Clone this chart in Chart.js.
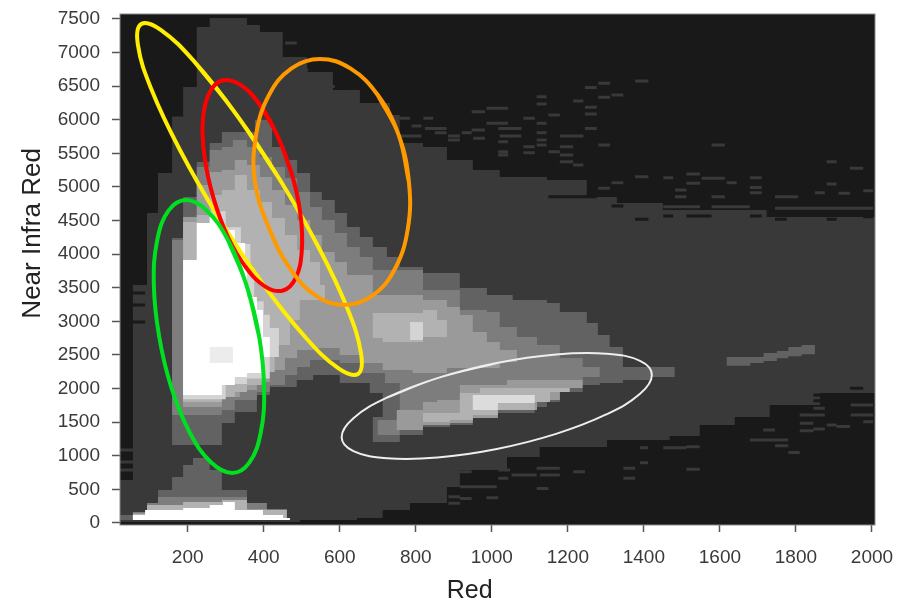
<!DOCTYPE html>
<html><head><meta charset="utf-8">
<script src="https://cdn.jsdelivr.net/npm/chart.js@4"></script>
<style>html,body{margin:0;padding:0;background:#fff}canvas{display:block;filter:blur(0.65px)}</style>
</head><body><canvas id="c" width="903" height="606"></canvas>
<script>
const xTicks=[200,400,600,800,1000,1200,1400,1600,1800,2000];
const yTicks=[0,500,1000,1500,2000,2500,3000,3500,4000,4500,5000,5500,6000,6500,7000,7500];
// density regions: [Red, Near Infra Red] outline corners
const band1=[[258,7514],[319,7514],[356,7410],[390,7306],[450,6934],[514,6711],[582,6443],[653,6250],[732,6071],[758,5654],[819,5595],[882,5401],[950,5252],[1021,5148],[1145,5104],[1250,4851],[1329,4761],[1450,4657],[1634,4657],[1723,4553],[2008,4508],[2008,1934],[1863,1756],[1731,1577],[1639,1458],[1547,1294],[1468,1235],[1303,1131],[1126,982],[1040,788],[916,535],[882,297],[785,193],[713,74],[645,45],[495,15],[22,15],[22,640],[56,640],[56,3541],[93,4612],[122,5208],[159,6041],[188,6487],[224,7380],[258,7514]];
const band2=[[290,5818],[377,6000],[422,5595],[456,5401],[488,5208],[522,4925],[553,4806],[587,4612],[619,4404],[653,4255],[687,4107],[724,3958],[758,3809],[819,3720],[916,3497],[987,3392],[1055,3318],[1145,3273],[1179,3140],[1250,2976],[1279,2797],[1310,2619],[1345,2321],[1416,2321],[1481,2351],[1481,2172],[1416,2128],[1345,2083],[1284,2053],[1239,1949],[1179,1800],[1145,1726],[1113,1637],[1016,1562],[950,1458],[890,1428],[819,1309],[758,1205],[687,1131],[687,1577],[713,1636],[713,1934],[679,2083],[600,2202],[530,2128],[487,2023],[416,1904],[382,1651],[324,1488],[290,1339],[290,1160],[188,1160],[159,1339],[159,4240],[188,4851],[224,5371],[258,5654],[290,5818]];
const band3=[[290,5595],[319,5699],[356,5595],[390,5446],[422,5297],[456,5133],[488,4925],[522,4702],[553,4508],[587,4315],[619,4107],[653,3958],[687,3764],[819,3467],[916,3169],[987,3140],[1021,2916],[1066,2767],[1119,2648],[1179,2455],[1239,2321],[1284,2172],[1239,2053],[1179,1904],[1113,1726],[1016,1637],[950,1562],[890,1488],[819,1413],[758,1309],[700,1170],[700,1532],[753,1681],[758,2083],[719,2232],[653,2380],[600,2425],[522,2321],[488,2202],[456,2053],[416,1949],[382,1830],[324,1681],[290,1607],[188,1607],[159,2128],[159,4211],[188,4434],[224,4732],[224,5297],[258,5550],[290,5595]];
const band4=[[290,5252],[324,5401],[356,5327],[390,5148],[422,4955],[456,4732],[488,4508],[522,4285],[553,4032],[587,3883],[619,3690],[687,3392],[819,3318],[882,3214],[916,3095],[950,2842],[987,2693],[1021,2574],[1066,2395],[1021,2306],[882,2232],[792,2276],[713,2380],[653,2499],[600,2604],[530,2574],[488,2455],[456,2276],[416,2098],[382,1979],[337,1875],[290,1726],[188,1726],[188,4553],[224,4657],[224,5029],[258,5223],[290,5252]];
const band5=[[290,4955],[324,5178],[356,4955],[390,4776],[422,4538],[456,4285],[488,4062],[522,3883],[548,3541],[561,3318],[495,3020],[469,2648],[429,2247],[395,2053],[356,1949],[324,1875],[290,1800],[188,1800],[188,4478],[224,4583],[258,4880],[290,4955]];
const band6=[[188,3800],[224,4463],[258,4640],[300,4400],[340,4150],[365,3800],[375,3300],[400,3100],[416,2900],[440,2470],[416,2150],[356,2070],[300,1840],[188,1860],[188,3800]];
const band7=[[224,4463],[258,4553],[290,4360],[324,4166],[351,3913],[356,3363],[382,3169],[398,2767],[416,2470],[398,2232],[356,2172],[324,2053],[290,1904],[224,1904],[188,2083],[188,3913],[224,4463]];
const coreHole=[[258,2619],[319,2619],[319,2380],[258,2380],[258,2619]];
const midBand5=[[687,3124],[819,3169],[856,3020],[882,2767],[819,2693],[713,2752],[687,2916],[687,3124]];
const midBand6=[[785,2990],[819,2990],[819,2723],[785,2723],[785,2990]];
const ridge4=[[750,1340],[750,1680],[819,1800],[856,1830],[916,2053],[1040,2128],[1213,2128],[1239,2009],[1179,1830],[1119,1681],[1016,1562],[950,1487],[890,1458],[819,1384],[750,1340]];
const ridge5=[[819,1428],[819,1637],[916,1934],[969,2009],[1179,2009],[1205,1949],[1153,1800],[1113,1681],[1016,1607],[950,1532],[890,1503],[819,1428]];
const ridge6=[[950,1904],[1047,1904],[1113,1934],[1113,1785],[1016,1681],[950,1711],[950,1904]];
const low2=[[214,967],[246,967],[258,788],[290,491],[356,297],[408,89],[461,45],[22,45],[22,119],[56,164],[93,297],[122,491],[159,684],[188,863],[214,967]];
const low3=[[122,387],[290,387],[356,297],[408,89],[461,45],[56,45],[56,164],[93,297],[122,387]];
const low5=[[93,267],[188,312],[290,342],[356,342],[356,200],[461,60],[56,60],[56,140],[93,267]];
const low7=[[56,119],[88,193],[188,223],[258,268],[293,312],[324,312],[324,193],[398,119],[451,74],[469,45],[56,45],[56,119]];
const streak=[[1618,2470],[1680,2470],[1715,2530],[1750,2560],[1780,2620],[1815,2650],[1850,2650],[1850,2510],[1815,2480],[1780,2450],[1750,2410],[1715,2380],[1680,2340],[1618,2340],[1618,2470]];
// sparse cells: [Red start, Red end, Near Infra Red]
const sparseCells=[[758,785,6021],[820,846,6021],[789,815,5907],[824,881,5872],[850,881,5808],[885,916,5699],[885,916,5758],[758,815,5758],[921,947,5808],[947,982,5848],[951,982,5724],[986,1043,5947],[1017,1078,5872],[1021,1078,5758],[1017,1043,5674],[1017,1043,5525],[1017,1043,5476],[1083,1113,6021],[1118,1144,5947],[1118,1144,5808],[1118,1144,5699],[1083,1113,5600],[1083,1113,5510],[1118,1144,5624],[1149,1179,5525],[1118,1144,6344],[1118,1144,6234],[1149,1179,6071],[1214,1241,6279],[1245,1276,6482],[1280,1311,6542],[1280,1311,6334],[1315,1346,6368],[1245,1276,6185],[1245,1276,6086],[1245,1276,5872],[1179,1241,5758],[1179,1214,5600],[1179,1214,5476],[1179,1214,5376],[1214,1241,5327],[1280,1311,5624],[1377,1412,6577],[1578,1613,5624],[1881,1907,5376],[1942,1977,5277],[947,982,6120],[986,1043,6170],[1377,1412,5153],[1451,1477,5138],[1512,1548,5193],[1552,1613,5128],[1618,1644,5064],[1679,1710,5138],[1679,1710,4994],[1679,1710,4915],[1512,1548,5054],[1482,1512,4955],[1482,1512,4856],[1578,1613,4856],[1745,1806,4856],[1850,1876,4915],[1881,1907,5044],[1912,1942,4905],[1977,2003,4945],[1280,1311,4980],[1315,1346,5064],[1451,1548,4707],[1578,1679,4707],[1745,2003,4682],
[916,947,763],[1017,1048,788],[1052,1118,713],[1118,1179,813],[1127,1179,713],[916,1013,540],[1017,1043,664],[1118,1149,515],[916,947,366],[986,1017,376],[886,916,391],[886,916,292],[1214,1245,763],[1346,1377,813],[1346,1377,664],
[1512,1547,799],[1780,1810,1047],[1679,1714,1235],[1714,1780,1235],[1745,1780,1151],[1512,1547,1136],[1451,1512,1121],[1390,1411,1121],[1390,1411,898],[1810,1846,1374],[1846,1876,1399],[1944,2003,1756],[1944,2003,1607],[1977,2003,1508],[1881,1907,1458],[1810,1876,1607],[1810,1846,1483],[1714,1745,1384],[1907,1942,1434],[1846,1876,1706],
[22,56,1086],[22,56,908],[22,56,788],[93,122,4553],[93,122,4464],[159,188,6026],[159,188,5877],[456,487,7142],[487,517,6740],[556,587,6495],[587,619,6368]];
const emptyCells=[[1377,1412,4518],[1451,1477,4568],[1512,1578,4568],[1679,1710,4568],[1745,1776,4518],[1881,1907,4518],[1977,2003,4558],[1149,1276,4856],[1315,1346,4717],[1942,1977,2004],[1977,2008,1905],[1977,2008,1830],[1846,1876,1905],[1846,1876,1820],[1907,1942,1756],[56,88,3616],[56,88,3422],[56,88,3244],[56,88,2991]];
// drawn ellipses: [Red, Near Infra Red], each outline overlaps its own start
const yellowLoop=[[443,5104],[328,6079],[218,6862],[130,7335],[78,7425],[69,7119],[104,6462],[179,5557],[282,4538],[397,3563],[507,2780],[595,2307],[648,2217],[656,2523],[621,3180],[546,4085],[443,5104],[328,6079],[218,6862]];
const redLoop=[[474,5192],[435,5777],[387,6246],[336,6530],[290,6584],[257,6400],[240,6006],[244,5463],[267,4852],[305,4267],[354,3798],[405,3514],[451,3460],[484,3644],[500,4038],[497,4581],[474,5192],[435,5777],[387,6246]];
const orangeLoop=[[782,5074],[755,5774],[700,6368],[628,6765],[548,6904],[473,6765],[414,6368],[380,5774],[377,5074],[415,4374],[470,3780],[537,3383],[611,3244],[686,3383],[745,3780],[779,4374],[782,5074],[755,5774],[700,6368]];
const greenLoop=[[388,2775],[354,3552],[306,4211],[250,4651],[196,4806],[150,4651],[120,4211],[111,3552],[125,2775],[158,1998],[206,1339],[262,899],[317,744],[362,899],[392,1339],[401,1998],[388,2775],[354,3552],[306,4211]];
const whiteLoop=[[1013,2381],[857,2156],[725,1867],[636,1560],[605,1280],[636,1070],[725,963],[857,974],[1013,1101],[1169,1326],[1301,1615],[1390,1922],[1421,2202],[1390,2412],[1301,2519],[1169,2508],[1013,2381],[857,2156],[725,1867]];

const pts=a=>a.map(p=>({x:p[0],y:p[1]}));
const dashes=a=>a.flatMap(d=>[{x:d[0],y:d[2]},{x:d[1],y:d[2]},{x:null,y:null}]);
const region=(d,c)=>({data:pts(d),borderWidth:0,borderColor:c,backgroundColor:c,fill:'shape',stepped:true,pointRadius:0,showLine:true});
const loop=(d,c,w)=>({data:pts(d),borderColor:c,borderWidth:w,fill:false,tension:0.4,pointRadius:0,showLine:true,borderJoinStyle:'round'});
const dash=(d,c,w)=>({data:dashes(d),borderColor:c,borderWidth:w,fill:false,pointRadius:0,showLine:true,spanGaps:false,borderCapStyle:'butt'});
const C1='#393939',C2='#626262',C3='#7d7d7d',C4='#9a9a9a',C5='#b2b2b2',C6='#d4d4d4',C7='#ffffff',BG='#191919';
const datasets=[
 region(band1,C1),dash(sparseCells,C1,3),dash(emptyCells,BG,3),
 region(band2,C2),region(low2,C2),region(streak,C2),
 region(band3,C3),region(low3,C3),
 region(band4,C4),region(ridge4,C4),
 region(band5,C5),region(midBand5,C5),region(ridge5,C5),region(low5,C5),
 region(midBand6,C6),region(ridge6,'#dcdcdc'),region(band6,C6),
 region(band7,C7),region(low7,C7),region(coreHole,'#ececec'),
 loop(whiteLoop,'#eeeeee',2),loop(yellowLoop,'#ffee00',4),loop(redLoop,'#ff0000',4),loop(orangeLoop,'#ff9900',4),loop(greenLoop,'#00e020',4)
];
datasets.forEach((d,i)=>{d.order=-i;});
const plotFrame={id:'plotFrame',
 beforeDatasetsDraw(ch){const a=ch.chartArea,c=ch.ctx;c.save();c.fillStyle=BG;c.fillRect(a.left,a.top,a.width,a.height);c.restore();},
 afterDatasetsDraw(ch){const a=ch.chartArea,c=ch.ctx;c.save();c.strokeStyle='#8a8a8a';c.lineWidth=1;c.strokeRect(a.left,a.top,a.width,a.height);c.restore();}};
const tickFont={family:'"Liberation Sans",Arial,sans-serif',size:19};
const xTitleFont={family:'"Liberation Sans",Arial,sans-serif',size:25};
const yTitleFont={family:'"Liberation Sans",Arial,sans-serif',size:26};
const flat=s=>{s.paddingLeft=0;s.paddingRight=0;s.paddingTop=0;s.paddingBottom=0;};
const xTitle='Red'+' '.repeat(8);
const yTitle=' '.repeat(10)+'Near Infra Red';
new Chart(document.getElementById('c'),{type:'scatter',data:{datasets},plugins:[plotFrame],options:{
 responsive:false,animation:false,
 layout:{padding:{left:0,top:14,right:28,bottom:0}},
 plugins:{legend:{display:false},tooltip:{enabled:false}},
 scales:{
  x:{type:'linear',min:22,max:2008,
   afterBuildTicks:s=>{s.ticks=xTicks.map(v=>({value:v}));},
   afterFit:s=>{s.height=81;flat(s);},
   grid:{drawOnChartArea:false,drawTicks:true,tickLength:7,color:'#555',tickWidth:1.5},border:{display:false},
   ticks:{font:tickFont,color:'#3a3a3a',padding:14,maxRotation:0,autoSkip:false,callback:v=>String(v)},
   title:{display:true,text:xTitle,font:xTitleFont,color:'#222',padding:{top:0,bottom:0}}},
  y:{type:'linear',min:-30,max:7574,
   afterBuildTicks:s=>{s.ticks=yTicks.map(v=>({value:v}));},
   afterFit:s=>{s.width=120;flat(s);},
   grid:{drawOnChartArea:false,drawTicks:true,tickLength:8,color:'#555',tickWidth:1.5},border:{display:false},
   ticks:{font:tickFont,color:'#3a3a3a',padding:12,autoSkip:false,callback:v=>String(v)},
   title:{display:true,text:yTitle,font:yTitleFont,color:'#222',padding:{top:17,bottom:0}}}
 }}});
</script></body></html>
